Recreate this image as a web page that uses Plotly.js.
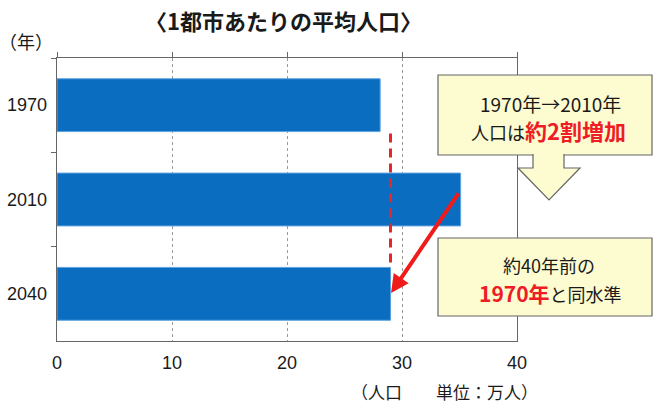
<!DOCTYPE html>
<html>
<head>
<meta charset="utf-8">
<script src="https://cdn.plot.ly/plotly-3.0.1.min.js"></script>
<style>html,body{margin:0;padding:0;background:#fff;}#chart{width:655px;height:405px;}</style>
</head>
<body>
<div id="chart"></div>
<script>
const years = ['1970', '2010', '2040'];
const avgPopulation = [28.1, 35.1, 29.0];   // 万人
const xTicks = [0, 10, 20, 30, 40];
const titleText = '〈1都市あたりの平均人口〉';
const yUnitText = '（年）';
const xUnitText = '（人口　　単位：万人）';
const note1Line1 = '1970年→2010年';
const note1Black = '人口は';
const note1Red = '約2割増加';
const note2Line1 = '約40年前の';
const note2Red = '1970年';
const note2Black = 'と同水準';

const W = 655, H = 405;
const L = 57, R = 517, T = 58, B = 341;
const px = x => (x - L) / (R - L);
const py = y => (B - y) / (B - T);
const JP = 'Noto Sans CJK JP';
const AR = 'Liberation Sans';
const barW = 0.56;

const traces = [
  {
    type: 'bar', orientation: 'h',
    x: avgPopulation, y: years,
    width: barW,
    marker: {color: '#0a6dc0', line: {color: '#5ea3e0', width: 1}},
    hoverinfo: 'skip'
  },
  {
    type: 'scatter', mode: 'markers', x: [null], y: [null], xaxis: 'x2',
    showlegend: false, hoverinfo: 'skip'
  }
];

const boxFill = '#fdfbd0', boxLine = '#666666';
const i1970 = years.indexOf('1970'), i2010 = years.indexOf('2010'), i2040 = years.indexOf('2040');

const shapes = [
  {type: 'line', xref: 'x', yref: 'y',
   x0: avgPopulation[i2040], x1: avgPopulation[i2040],
   y0: i1970 + barW / 2 + 0.02, y1: i2040 - barW / 2 - 0.02,
   line: {color: '#e8262a', width: 3, dash: '9px,6px'}, layer: 'above'},
  {type: 'rect', xref: 'paper', yref: 'paper',
   x0: px(438), x1: px(652), y0: py(155), y1: py(75),
   fillcolor: boxFill, line: {color: boxLine, width: 1.2}, layer: 'above'},
  {type: 'path', xref: 'paper', yref: 'paper',
   path: `M ${px(533)},${py(154)} L ${px(533)},${py(168)} L ${px(518)},${py(168)} L ${px(549)},${py(200)} L ${px(580)},${py(168)} L ${px(564)},${py(168)} L ${px(564)},${py(154)}`,
   fillcolor: boxFill, line: {color: boxLine, width: 1.2}, layer: 'above'},
  {type: 'rect', xref: 'paper', yref: 'paper',
   x0: px(438), x1: px(652), y0: py(316), y1: py(238),
   fillcolor: boxFill, line: {color: boxLine, width: 1.2}, layer: 'above'}
];

function label(x, y, text, size, bold) {
  return {xref: 'paper', yref: 'paper', x: px(x), y: py(y), xanchor: 'center', yanchor: 'middle',
    text: bold ? '<b>' + text + '</b>' : text, showarrow: false,
    font: {family: JP, size: size, color: '#1a1a1a'}};
}

const annotations = [
  label(283, 20, titleText, 22, true),
  label(26, 41, yUnitText, 18, false),
  label(444, 391, xUnitText, 17, false),
  label(550, 103, note1Line1, 19, false),
  label(548, 130, note1Black + '<span style="color:#ee1c25;font-size:22px"><b>' + note1Red + '</b></span>', 18, false),
  label(549, 265, note2Line1, 18, false),
  label(550, 293, '<span style="color:#ee1c25;font-size:21px"><b>' + note2Red + '</b></span>' + note2Black, 18, false),
  {xref: 'x', yref: 'y', axref: 'x', ayref: 'y',
   x: avgPopulation[i2040], y: i2040,
   ax: avgPopulation[i2010] - 0.1, ay: i2010 - 0.08,
   text: '', showarrow: true, arrowhead: 2, arrowsize: 0.9, arrowwidth: 4,
   arrowcolor: '#f01c1c', standoff: 1}
];

const layout = {
  width: W, height: H,
  margin: {l: L, r: W - R, t: T, b: H - B, pad: 0},
  paper_bgcolor: '#ffffff', plot_bgcolor: '#ffffff',
  showlegend: false,
  xaxis: {
    range: [0, 40], tickvals: xTicks, ticktext: xTicks.map(String),
    showgrid: true, gridcolor: '#9a9a9a', gridwidth: 1, griddash: 'dot',
    zeroline: false, showline: true, linecolor: '#666666', linewidth: 1.3,
    ticks: '', ticklabelstandoff: 5,
    tickfont: {family: AR, size: 18, color: '#1a1a1a'}, fixedrange: true
  },
  xaxis2: {
    overlaying: 'x', side: 'top', range: [0, 40], tickvals: xTicks,
    showticklabels: false, showgrid: false, zeroline: false,
    showline: true, linecolor: '#666666', linewidth: 1.3,
    ticks: 'outside', ticklen: 5, tickcolor: '#666666', tickwidth: 1
  },
  yaxis: {
    type: 'category', categoryorder: 'array', categoryarray: years,
    autorange: 'reversed',
    showgrid: false, zeroline: false, showline: true, mirror: true,
    linecolor: '#666666', linewidth: 1.3,
    ticks: 'outside', tickson: 'boundaries', ticklen: 5, tickcolor: '#666666',
    ticklabelstandoff: 5,
    tickfont: {family: AR, size: 18, color: '#1a1a1a'}, fixedrange: true
  },
  shapes: shapes,
  annotations: annotations
};

Plotly.newPlot('chart', traces, layout, {displayModeBar: false, staticPlot: true});
</script>
</body>
</html>
